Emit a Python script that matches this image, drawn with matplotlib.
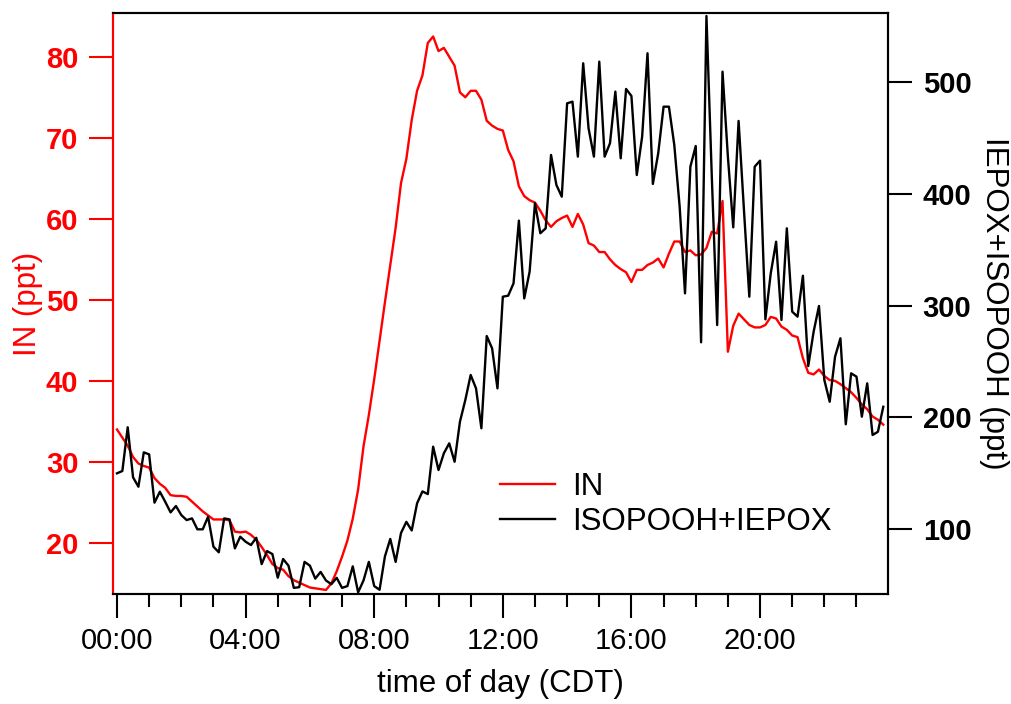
import numpy as np
import matplotlib
matplotlib.use("Agg")
import matplotlib.pyplot as plt
from matplotlib.ticker import MultipleLocator

plt.rcParams['font.family'] = ['Liberation Sans', 'DejaVu Sans']

# time of day in hours, 10-minute resolution
hours = np.arange(144) / 6.0

IN_ppt = [
    34.0, 33.0, 32.0, 30.6, 29.8, 29.5, 29.3, 28.0, 27.3, 26.8, 25.9, 25.8,
    25.8, 25.7, 25.1, 24.5, 23.9, 23.4, 22.9, 22.9, 22.9, 22.8, 21.4, 21.3,
    21.4, 21.0, 20.4, 19.5, 18.5, 17.4, 16.9, 16.7, 15.9, 15.4, 15.1, 14.8,
    14.5, 14.4, 14.3, 14.2, 15.0, 16.5, 18.3, 20.3, 23.0, 26.6, 31.9, 35.8,
    40.2, 45.0, 49.7, 54.3, 58.9, 64.4, 67.4, 72.2, 75.8, 77.7, 81.7, 82.5,
    80.7, 81.1, 80.0, 78.9, 75.6, 75.0, 75.8, 75.8, 74.7, 72.1, 71.5, 71.1,
    70.9, 68.5, 67.1, 64.0, 62.8, 62.3, 62.0, 61.0, 59.8, 59.0, 59.7, 60.1,
    60.4, 59.0, 60.6, 59.3, 57.0, 56.7, 55.9, 55.9, 55.0, 54.3, 53.8, 53.4,
    52.2, 53.7, 53.7, 54.3, 54.6, 55.1, 54.0, 55.7, 57.2, 57.2, 55.9, 56.1,
    55.5, 55.6, 56.4, 58.4, 58.2, 62.2, 43.6, 46.8, 48.3, 47.6, 46.9, 46.6,
    46.6, 46.9, 47.9, 47.7, 46.7, 46.3, 45.6, 45.4, 42.8, 41.0, 40.8, 41.4,
    40.6, 40.1, 40.0, 39.6, 39.1, 38.6, 37.9, 37.1, 36.5, 35.6, 35.2, 34.6,
]

IEPOX_ISOPOOH_ppt = [
    149.5, 151.6, 190.8, 145.9, 137.5, 168.3, 166.5, 123.2, 133.0, 124.0, 114.5, 120.2,
    112.1, 107.6, 109.1, 99.3, 99.3, 110.6, 83.7, 78.7, 109.1, 108.2, 82.2, 92.7,
    88.2, 85.2, 91.7, 68.1, 79.8, 77.1, 55.9, 72.7, 66.7, 46.8, 47.4, 70.1,
    66.7, 55.1, 61.1, 53.4, 50.1, 55.8, 46.8, 48.4, 66.1, 42.8, 53.4, 70.1,
    48.4, 45.1, 75.0, 90.7, 70.1, 96.0, 106.0, 98.3, 122.6, 133.3, 130.9, 173.4,
    152.5, 167.5, 176.4, 159.9, 195.8, 215.2, 237.7, 225.7, 189.9, 272.6, 261.6, 225.7,
    307.9, 308.8, 319.9, 376.1, 306.4, 330.3, 391.7, 364.8, 369.2, 435.0, 408.1, 397.6,
    481.3, 482.8, 433.5, 517.2, 458.9, 433.5, 518.7, 433.5, 445.5, 491.8, 432.0, 494.2,
    487.9, 417.0, 451.4, 526.2, 409.0, 436.5, 478.3, 478.3, 443.9, 388.6, 310.9, 424.5,
    443.0, 267.0, 559.6, 415.5, 282.5, 509.7, 433.5, 370.1, 465.5, 385.6, 307.9, 424.5,
    429.9, 287.6, 328.9, 357.2, 287.0, 369.2, 294.5, 290.0, 326.7, 245.7, 276.5, 299.6,
    233.2, 213.7, 254.1, 270.6, 193.5, 239.2, 236.2, 200.3, 230.2, 183.9, 186.8, 209.2,
]

x_ticks = [0, 4, 8, 12, 16, 20]
x_tick_labels = ["00:00", "04:00", "08:00", "12:00", "16:00", "20:00"]
left_ticks = [20, 30, 40, 50, 60, 70, 80]
right_ticks = [100, 200, 300, 400, 500]

fig = plt.figure(figsize=(10.11, 7.04), dpi=100)
ax = fig.add_axes([113/1011, 1 - 594/704, (888-113)/1011, (594-13)/704])
ax2 = ax.twinx()

l1, = ax.plot(hours, IN_ppt, color='red', lw=1.7, label='IN')
l2, = ax2.plot(hours, IEPOX_ISOPOOH_ppt, color='black', lw=1.7, label='ISOPOOH+IEPOX')

ax.set_xlim(-0.124, 23.98)
ax.set_ylim(13.7, 85.4)
ax2.set_ylim(41.3, 562.3)

for a in (ax, ax2):
    for s in a.spines.values():
        s.set_linewidth(1.5)
ax2.spines['left'].set_color('red')
ax.spines['left'].set_color('red')

ax.set_xticks(x_ticks)
ax.set_xticklabels(x_tick_labels)
ax.xaxis.set_minor_locator(MultipleLocator(1))
ax.tick_params(axis='x', which='major', direction='out', length=17, width=1.5,
               labelsize=21, pad=7, color='black')
ax.tick_params(axis='x', which='minor', direction='out', length=9, width=1.5, color='black')

ax.set_yticks(left_ticks)
ax.tick_params(axis='y', direction='out', length=17, width=1.5, color='red',
               labelcolor='red', labelsize=21, pad=8)
for t in ax.get_yticklabels():
    t.set_fontweight('bold')

ax2.set_yticks(right_ticks)
ax2.tick_params(axis='y', direction='out', length=17, width=1.5, color='black',
                labelsize=21, pad=8)
for t in ax2.get_yticklabels():
    t.set_fontweight('bold')

ax.set_xlabel('time of day (CDT)', fontsize=22.5, labelpad=10)
ax.set_ylabel('IN (ppt)', fontsize=22.5, color='red', labelpad=2)
ax2.set_ylabel('IEPOX+ISOPOOH (ppt)', fontsize=22.5, rotation=-90, labelpad=27)

leg = ax2.legend(handles=[l1, l2], loc='upper left',
                 bbox_to_anchor=(500/1011, 1 - 472/704), bbox_transform=fig.transFigure,
                 frameon=False, fontsize=22.5, handlelength=1.75, handletextpad=0.55,
                 borderpad=0, borderaxespad=0, labelspacing=0.15)

fig.savefig('out.png', dpi=100)
